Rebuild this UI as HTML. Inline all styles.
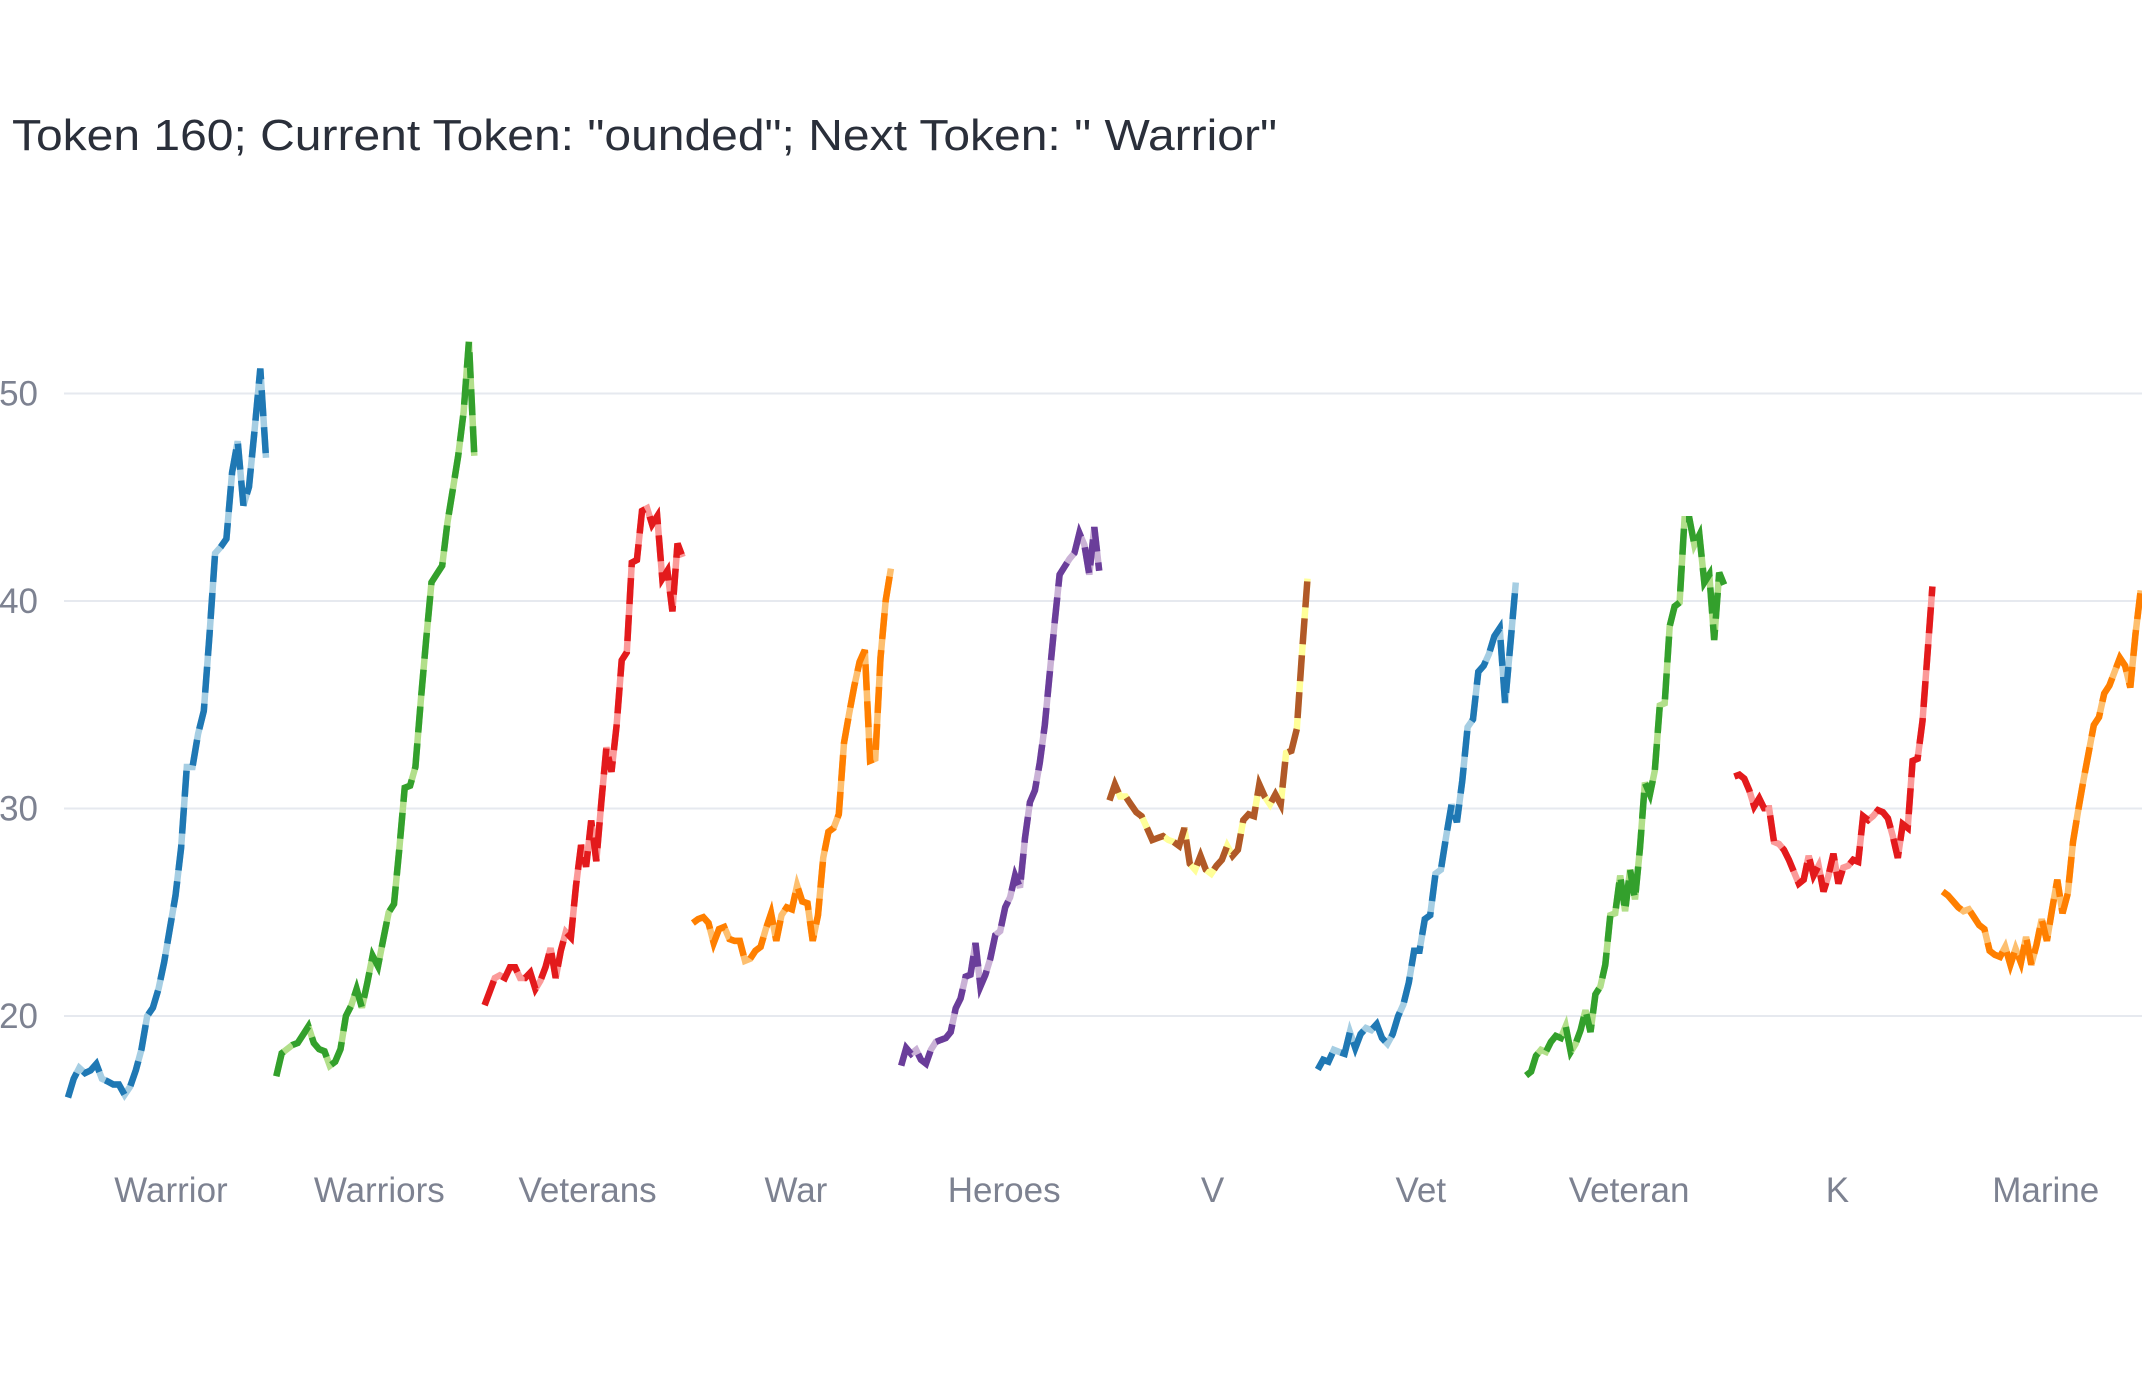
<!DOCTYPE html>
<html><head><meta charset="utf-8">
<style>
html,body{margin:0;padding:0;background:#fff;}
svg{display:block;font-family:"Liberation Sans",Arial,sans-serif;}
</style></head>
<body>
<svg id="chart" width="2142" height="1380" viewBox="0 0 2142 1380" xmlns="http://www.w3.org/2000/svg">
<rect width="2142" height="1380" fill="#ffffff"/>
<text x="12" y="150" font-size="44" fill="#2a2f3a" textLength="1265" lengthAdjust="spacingAndGlyphs">Token 160; Current Token: "ounded"; Next Token: " Warrior"</text>
<g id="grid"></g>
<g id="series"></g>
<g id="labels"></g>
</svg>
<script>
const categories = ["Warrior","Warriors","Veterans","War","Heroes","V","Vet","Veteran","K","Marine"];
const yTicks = [20,30,40,50];
const sWarrior = [16.07,16.98,17.5,17.25,17.38,17.69,16.98,16.85,16.7,16.7,16.2,16.6,17.4,18.4,20.0,20.4,21.3,22.6,24.2,25.8,28.1,32.0,32.0,33.6,34.7,38.3,42.3,42.6,43.0,46.2,47.7,44.6,45.5,48.3,51.2,46.9];
const sWarriors = [17.1,18.2,18.4,18.6,18.7,19.1,19.5,18.7,18.4,18.3,17.6,17.8,18.4,20.0,20.5,21.3,20.4,21.6,22.9,22.4,23.7,25.0,25.4,28.1,31.0,31.1,32.0,35.2,38.1,40.9,41.3,41.7,43.8,45.4,47.0,49.1,52.5,47.0];
const sVeterans = [20.52,21.17,21.83,21.96,21.83,22.35,22.35,21.83,21.83,22.09,21.3,21.7,22.35,23.27,21.83,23.14,24.05,23.79,26.28,28.24,27.19,29.42,27.46,30.34,32.95,31.77,34.0,37.14,37.53,41.85,41.98,44.34,44.47,43.69,44.08,41.07,41.46,39.5,42.77,42.12];
const sWar = [24.48,24.67,24.76,24.48,23.52,24.19,24.29,23.71,23.62,23.62,22.66,22.76,23.14,23.33,24.19,24.95,23.62,24.86,25.24,25.14,26.29,25.52,25.43,23.62,24.86,27.62,28.87,29.06,29.72,33.16,34.59,35.93,37.07,37.64,32.3,32.4,37.26,40.03,41.56];
const sHeroes = [17.61,18.46,18.18,18.37,17.89,17.7,18.37,18.75,18.85,18.94,19.23,20.37,20.85,21.9,21.99,23.52,21.42,21.99,22.76,23.9,24.09,25.24,25.72,26.77,26.19,28.58,30.3,30.87,32.21,34.02,36.5,38.98,41.27,41.65,42.03,42.32,43.27,42.7,41.27,43.56,41.46];
const sV = [30.39,31.16,30.58,30.58,30.2,29.82,29.63,29.06,28.48,28.58,28.67,28.48,28.39,28.2,29.06,27.34,27.05,27.72,27.05,26.86,27.24,27.53,28.2,27.72,28.01,29.44,29.72,29.63,31.16,30.58,30.2,30.68,30.2,32.68,32.78,33.83,37.55,41.08];
const sVet = [17.42,17.89,17.8,18.37,18.27,18.18,19.23,18.46,19.13,19.42,19.32,19.61,18.94,18.66,19.13,19.99,20.56,21.61,23.14,23.14,24.67,24.86,26.86,27.05,28.67,30.2,29.34,31.35,33.92,34.3,36.59,36.88,37.45,38.31,38.69,35.07,37.93,40.89];
const sVeteran = [17.13,17.32,18.08,18.37,18.27,18.75,19.04,18.94,19.51,18.27,18.66,19.32,20.28,19.23,21.04,21.42,22.47,24.86,24.95,26.77,25.05,27.05,25.62,28.1,31.25,30.68,31.82,34.97,35.07,38.79,39.74,39.93,43.94,43.94,42.7,43.18,40.89,41.27,38.12,41.37,40.79];
const sK = [31.54,31.63,31.44,30.87,30.1,30.49,30.01,30.01,28.39,28.29,28.01,27.53,26.96,26.38,26.57,27.72,26.77,27.24,26.0,26.77,27.82,26.38,27.15,27.24,27.53,27.43,29.63,29.44,29.63,29.92,29.82,29.53,28.67,27.62,29.25,29.06,32.3,32.4,34.21,37.45,40.7];
const sMarine = [26.0,25.81,25.53,25.24,25.05,25.14,24.76,24.38,24.19,23.14,22.95,22.85,23.33,22.47,23.24,22.57,23.81,22.47,23.43,24.67,23.62,25.14,26.57,24.95,25.91,28.39,29.91,31.35,32.68,34.02,34.4,35.54,35.93,36.59,37.26,36.88,35.83,38.41,40.51];
const seriesValues = [sWarrior,sWarriors,sVeterans,sWar,sHeroes,sV,sVet,sVeteran,sK,sMarine];
const darkColors = ["#1f78b4","#33a02c","#e31a1c","#ff7f00","#6a3d9a","#b15928","#1f78b4","#33a02c","#e31a1c","#ff7f00"];
const lightColors = ["#a6cee3","#b2df8a","#fb9a99","#fdbf6f","#cab2d6","#ffff99","#a6cee3","#b2df8a","#fb9a99","#fdbf6f"];

const NS = "http://www.w3.org/2000/svg";
const groupStart = 68, groupStep = 208.3, groupSpan = 198;
function yScale(v){ return 601 - (v - 40) * 20.75; }
function xScale(g, i, n){ return groupStart + g * groupStep + (n > 1 ? i / (n - 1) : 0) * groupSpan; }

const grid = document.getElementById('grid');
yTicks.forEach(t => {
  const y = yScale(t);
  const l = document.createElementNS(NS, 'line');
  l.setAttribute('x1', 64); l.setAttribute('x2', 2142);
  l.setAttribute('y1', y); l.setAttribute('y2', y);
  l.setAttribute('stroke', '#e6e9ef'); l.setAttribute('stroke-width', 2);
  
  
  grid.appendChild(l);
  const tx = document.createElementNS(NS, 'text');
  tx.setAttribute('x', 38); tx.setAttribute('y', y + 12);
  tx.setAttribute('text-anchor', 'end'); tx.setAttribute('font-size', 35);
  tx.setAttribute('fill', '#7d8291');
  tx.textContent = t;
  
  
  grid.appendChild(tx);
});

const sg = document.getElementById('series');
seriesValues.forEach((vals, g) => {
  const pts = vals.map((v, i) => xScale(g, i, vals.length).toFixed(1) + ',' + yScale(v).toFixed(1)).join(' ');
  const light = document.createElementNS(NS, 'polyline');
  light.setAttribute('points', pts);
  light.setAttribute('fill', 'none');
  light.setAttribute('stroke', lightColors[g]);
  light.setAttribute('stroke-width', 6.5);
  
  
  sg.appendChild(light);
  const dark = document.createElementNS(NS, 'polyline');
  dark.setAttribute('points', pts);
  dark.setAttribute('fill', 'none');
  dark.setAttribute('stroke', darkColors[g]);
  dark.setAttribute('stroke-width', 6.5);
  dark.setAttribute('stroke-dasharray', '26 11');
  
  
  sg.appendChild(dark);
});

const lg = document.getElementById('labels');
categories.forEach((c, g) => {
  const t = document.createElementNS(NS, 'text');
  t.setAttribute('x', groupStart + g * groupStep + groupSpan / 2 + 4);
  t.setAttribute('y', 1202);
  t.setAttribute('text-anchor', 'middle');
  t.setAttribute('font-size', 35);
  t.setAttribute('fill', '#7d8291');
  t.textContent = c;
  
  
  lg.appendChild(t);
});
</script>
</body></html>
